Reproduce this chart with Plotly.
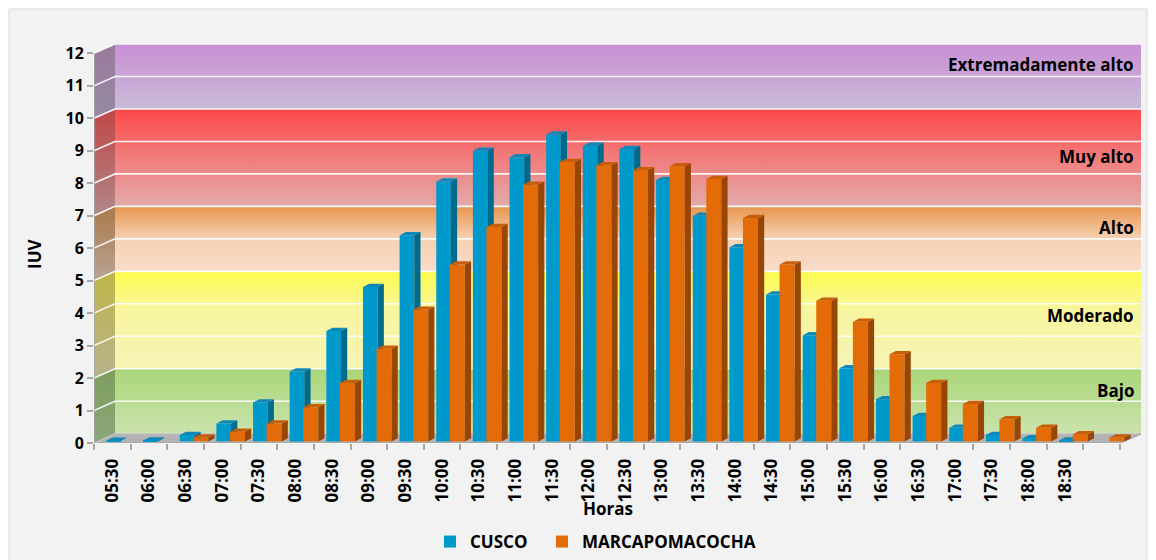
import plotly.graph_objects as go

# ---------------- data ----------------
hours = ["05:30", "06:00", "06:30", "07:00", "07:30", "08:00", "08:30", "09:00",
         "09:30", "10:00", "10:30", "11:00", "11:30", "12:00", "12:30", "13:00",
         "13:30", "14:00", "14:30", "15:00", "15:30", "16:00", "16:30", "17:00",
         "17:30", "18:00", "18:30", ""]
cusco = [0.02, 0.03, 0.2, 0.55, 1.2, 2.15, 3.4, 4.75, 6.35, 8.0, 8.95, 8.75, 9.45, 9.1,
         9.0, 8.05, 6.95, 5.98, 4.52, 3.27, 2.25, 1.3, 0.78, 0.42, 0.2, 0.1, 0.03, 0.0]
marcapomacocha = [0.0, 0.0, 0.12, 0.3, 0.55, 1.05, 1.8, 2.85, 4.05, 5.45, 6.6, 7.9, 8.6,
                  8.5, 8.35, 8.47, 8.08, 6.88, 5.45, 4.33, 3.68, 2.68, 1.8, 1.15, 0.68,
                  0.42, 0.22, 0.12]
series_names = ["CUSCO", "MARCAPOMACOCHA"]
band_names = ["Bajo", "Moderado", "Alto", "Muy alto", "Extremadamente alto"]
band_edges = [0, 2, 5, 7, 10, 12]
y_ticks = list(range(13))

# ---------------- styling / geometry ----------------
FONT = "Open Sans"
DXW, DYW = 0.573, 0.286      # depth of walls (data units)
DXB, DYB = 0.17, 0.10        # depth of bars
BASE = 0.05
NCAT = len(hours)
XMIN, XMAX = -0.5, NCAT - 0.5
back_colors = [
    [[0, "#cbe3ad"], [1, "#a9d678"]],
    [[0, "#f7f3b5"], [0.6, "#f8f5a0"], [1, "#fdfc4c"]],
    [[0, "#f8dcca"], [0.5, "#f6d2b4"], [1, "#e8954f"]],
    [[0, "#e2aaaa"], [0.5, "#f27c7c"], [1, "#fd4848"]],
    [[0, "#c8bcd8"], [1, "#c98fd4"]],
]
side_colors = [
    [[0, "#8ea67c"], [1, "#7c9e5c"]],
    [[0, "#b6b28c"], [1, "#bfb748"]],
    [[0, "#b8a494"], [1, "#a97a4c"]],
    [[0, "#b08888"], [1, "#c04646"]],
    [[0, "#958aa2"], [1, "#9a7a9c"]],
]
label_y = [1.63, 3.94, 6.64, 8.83, 11.66]

fig = go.Figure()

# walls (subplot 1)
for i in range(len(band_names)):
    a, b = band_edges[i], band_edges[i + 1]
    fig.add_trace(go.Scatter(
        x=[XMIN + DXW, XMAX + DXW, XMAX + DXW, XMIN + DXW, XMIN + DXW],
        y=[a + DYW, a + DYW, b + DYW, b + DYW, a + DYW],
        mode="lines", line=dict(width=0), fill="toself",
        fillgradient=dict(type="vertical", colorscale=back_colors[i],
                          start=a + DYW, stop=b + DYW),
        hoverinfo="skip", showlegend=False))
    fig.add_trace(go.Scatter(
        x=[XMIN, XMIN + DXW, XMIN + DXW, XMIN, XMIN],
        y=[a, a + DYW, b + DYW, b, a],
        mode="lines", line=dict(width=0), fill="toself",
        fillgradient=dict(type="vertical", colorscale=side_colors[i],
                          start=a, stop=b + DYW),
        hoverinfo="skip", showlegend=False))

# grid lines on walls
gx, gy = [], []
for t in y_ticks[1:]:
    gx += [XMIN, XMIN + DXW, XMAX + DXW, None]
    gy += [t, t + DYW, t + DYW, None]
fig.add_trace(go.Scatter(x=gx, y=gy, mode="lines",
                         line=dict(color="rgba(255,255,255,0.9)", width=1.6),
                         hoverinfo="skip", showlegend=False))
# floor
fig.add_trace(go.Scatter(
    x=[XMIN, XMAX, XMAX + DXW, XMIN + DXW, XMIN],
    y=[0, 0, DYW, DYW, 0], mode="lines",
    line=dict(color="#c8c8c8", width=1), fill="toself", fillcolor="#b3b3b3",
    hoverinfo="skip", showlegend=False))
# axis lines
fig.add_trace(go.Scatter(
    x=[XMIN, XMIN, None, XMIN, XMAX, XMAX + DXW],
    y=[y_ticks[-1], 0, None, 0, 0, DYW], mode="lines",
    line=dict(color="#a6a6a6", width=1.5),
    hoverinfo="skip", showlegend=False))

# bars
def faces(vals, off, w):
    sx, sy, tx, ty = [], [], [], []
    for c, v in enumerate(vals):
        if v <= 0:
            continue
        l = c + off
        r = l + w
        b = BASE
        t = BASE + v
        sx += [r, r + DXB, r + DXB, r, r, None]
        sy += [b, b + DYB, t + DYB, t, b, None]
        tx += [l, r, r + DXB, l + DXB, l, None]
        ty += [t, t, t + DYB, t + DYB, t, None]
    return sx, sy, tx, ty

bar_specs = [
    (cusco, series_names[0], -0.16, 0.40, "#0099cc", "#006a8c", "#0f88b9", "x2", "y2", "legend"),
    (marcapomacocha, series_names[1], 0.21, 0.41, "#e36c09", "#984606", "#c95e08", "x3", "y3", "legend2"),
]
for vals, name, off, w, cf, cs, ct, xa, ya, lg in bar_specs:
    fig.add_trace(go.Bar(x=list(range(NCAT)), y=vals, base=BASE, offset=off, width=w,
                         name=name, marker=dict(color=cf, line=dict(width=0)),
                         xaxis=xa, yaxis=ya, legend=lg))
    sx, sy, tx, ty = faces(vals, off, w)
    fig.add_trace(go.Scatter(x=sx, y=sy, mode="lines", line=dict(width=0),
                             fill="toself", fillcolor=cs, hoverinfo="skip",
                             showlegend=False, xaxis=xa, yaxis=ya))
    fig.add_trace(go.Scatter(x=tx, y=ty, mode="lines", line=dict(width=0),
                             fill="toself", fillcolor=ct, hoverinfo="skip",
                             showlegend=False, xaxis=xa, yaxis=ya))

XR = [XMIN, XMAX + DXW]
YR = [0, y_ticks[-1] + DYW]

L, R, T, B = 94, 15, 44, 117
W, H = 1156, 560
pw = W - L - R
ph = H - T - B

def px(xp):
    return (xp - L) / pw

def py(yp):
    return (H - B - yp) / ph

bold17 = dict(family=FONT, size=17, color="#000000", weight="bold")
ann = []
for name, yv in zip(band_names, label_y):
    ann.append(dict(x=27.93, y=yv, xref="x", yref="y", text=name, showarrow=False,
                    xanchor="right", yanchor="middle", font=bold17))
ann.append(dict(x=px(34), y=py(254), xref="paper", yref="paper", text="IUV",
                textangle=-90, showarrow=False, xanchor="center", yanchor="middle",
                font=bold17))
ann.append(dict(x=px(608), y=py(509), xref="paper", yref="paper", text="Horas",
                showarrow=False, xanchor="center", yanchor="middle", font=bold17))

legend_common = dict(orientation="h", y=py(542), xanchor="left", yanchor="middle",
                     itemwidth=30, bgcolor="rgba(0,0,0,0)", font=bold17)

fig.update_layout(
    width=W, height=H,
    margin=dict(l=L, r=R, t=T, b=B, autoexpand=False),
    paper_bgcolor="#ffffff", plot_bgcolor="rgba(0,0,0,0)",
    barmode="overlay",
    xaxis=dict(range=XR, showgrid=False, zeroline=False, showline=False,
               tickmode="array", tickvals=list(range(NCAT)), ticktext=hours,
               tickangle=-90, ticks="outside", ticklen=8, tickcolor="rgba(0,0,0,0)",
               tickfont=dict(family=FONT, size=17, color="#000000", weight="bold"),
               minor=dict(tickmode="array",
                          tickvals=[i - 0.5 for i in range(NCAT + 1)],
                          ticks="outside", ticklen=6, tickcolor="#a6a6a6", tickwidth=1.5,
                          showgrid=False)),
    yaxis=dict(range=YR, showgrid=False, zeroline=False, showline=False,
               tickmode="array", tickvals=y_ticks, ticks="outside", ticklen=6,
               tickcolor="#a6a6a6", tickwidth=1.5,
               tickfont=dict(family=FONT, size=16, color="#000000", weight="bold")),
    xaxis2=dict(range=XR, overlaying="x", visible=False),
    yaxis2=dict(range=YR, overlaying="y", visible=False),
    xaxis3=dict(range=XR, overlaying="x", visible=False),
    yaxis3=dict(range=YR, overlaying="y", visible=False),
    showlegend=True,
    legend=dict(x=px(430), **legend_common),
    legend2=dict(x=px(542), **legend_common),
    annotations=ann,
    shapes=[dict(type="rect", xref="paper", yref="paper", layer="below",
                 x0=px(9), x1=px(1147), y0=py(575), y1=py(9),
                 fillcolor="#f2f2f2", line=dict(color="#d9d9d9", width=1))],
)

fig.write_html("out.html", config={"displayModeBar": False},
               post_script="document.body.style.margin='0px';")
